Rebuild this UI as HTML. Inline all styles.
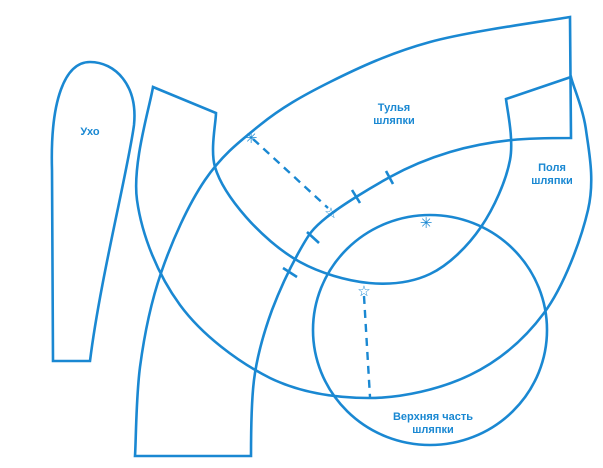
<!DOCTYPE html>
<html><head><meta charset="utf-8"><style>
html,body{margin:0;padding:0;background:#fff;width:603px;height:468px;overflow:hidden}
svg{display:block}
text{font-family:"Liberation Sans","DejaVu Sans",sans-serif;font-weight:bold;font-size:11px;fill:#1a88d2;text-anchor:middle}
</style></head><body>
<svg width="603" height="468" viewBox="0 0 603 468">
<g fill="none" stroke="#1a88d2" stroke-width="2.6" stroke-linejoin="miter">
<!-- ear -->
<path d="M53,361 L90,361 C100,280 128,170 134,125 C138,85 115,62 90,62 C65,62 50,100 52,170 Z"/>
<!-- brim piece -->
<path d="M153,87 C150,106 132,164 137,200 C142,236 158,275 180,305 C202,335 238,362 270,378 C301,393 336,398 369,398 C402,398 441,389 470,375 C499,361 524,340 544,313 C564,286 581,240 588,210 C595,180 589,152 586,130 C583,108 573,86 571,77 L506,99 C507,109 514,139 510,160 C506,181 494,208 481,227 C468,246 449,265 430,274 C411,283 391,285 369,283 C347,281 320,273 300,262 C280,251 260,233 246,217 C232,201 220,184 215,167 C210,150 216,122 216,113 Z"/>
<!-- crown band -->
<path d="M135,456 C136,441 136,398 140,367 C144,337 150,305 161,273 C172,241 188,205 205,180 C222,155 239,142 260,125 C281,108 302,96 330,82 C358,68 390,53 430,42 C470,31 547,21 570,17 L571,138 C561,138 532,138 512,140 C492,142 470,146 450,152 C430,158 410,166 390,177 C370,188 342,205 327,217 C312,229 309,234 300,250 C291,266 280,289 272,310 C264,332 257,356 254,380 C251,404 251,443 251,456 Z"/>
<!-- top circle -->
<ellipse cx="430" cy="330" rx="117" ry="115"/>
<!-- notches -->
<line x1="386" y1="171" x2="393" y2="184"/>
<line x1="352" y1="190" x2="360" y2="203"/>
<line x1="307" y1="232" x2="319" y2="243"/>
<line x1="283" y1="268" x2="297" y2="277"/>
</g>
<g stroke="#1a88d2" stroke-width="2.4" stroke-dasharray="8,6" fill="none">
<line x1="253" y1="139" x2="328" y2="208"/>
<line x1="364" y1="296" x2="370" y2="397"/>
</g>
<text x="251" y="143" style="font-size:15px;font-family:'DejaVu Sans',sans-serif">✳</text>
<text x="426" y="228" style="font-size:15px;font-family:'DejaVu Sans',sans-serif">✳</text>
<text x="331" y="218" style="font-size:15px;font-family:'DejaVu Sans',sans-serif">☆</text>
<text x="364" y="296" style="font-size:15px;font-family:'DejaVu Sans',sans-serif">☆</text>
<text x="90" y="135">Ухо</text>
<text x="394" y="111">Тулья</text>
<text x="394" y="124">шляпки</text>
<text x="552" y="171">Поля</text>
<text x="552" y="184">шляпки</text>
<text x="433" y="420">Верхняя часть</text>
<text x="433" y="433">шляпки</text>
</svg>
</body></html>
